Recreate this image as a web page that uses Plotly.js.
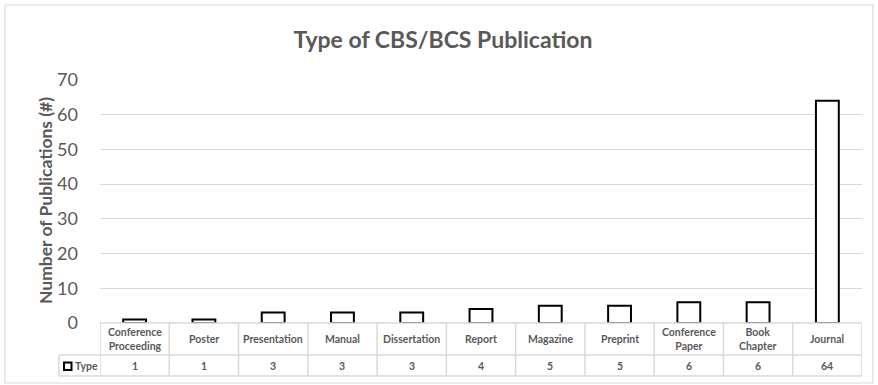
<!DOCTYPE html>
<html>
<head>
<meta charset="utf-8">
<script src="https://cdn.plot.ly/plotly-3.0.1.min.js"></script>
<style>html,body{margin:0;padding:0;background:#fff;}#chart{width:878px;height:385px;}</style>
</head>
<body>
<div id="chart"></div>
<script>
const categories = ["Conference Proceeding","Poster","Presentation","Manual","Dissertation","Report","Magazine","Preprint","Conference Paper","Book Chapter","Journal"];
const categoryLabels = ["Conference<br>Proceeding","Poster","Presentation","Manual","Dissertation","Report","Magazine","Preprint","Conference<br>Paper","Book<br>Chapter","Journal"];
const values = [1,1,3,3,3,4,5,5,6,6,64];
const seriesName = "Type";
const yTicks = [0,10,20,30,40,50,60,70];

const FONT = "Lato, 'Open Sans', sans-serif";
const GRAY = "#595959";
const LINE = "#d9d9d9";

// layout geometry (pixels)
const W = 878, H = 385;
const mL = 100, mR = 16, mT = 80, mB = 62;
const plotH = H - mT - mB;
const plotW = W - mL - mR;
const py = p => (H - mB - p) / plotH;   // pixel y -> paper y
const px = p => (p - mL) / plotW;       // pixel x -> paper x

const n = categories.length;
const shapes = [];
const annotations = [];

// outer chart border
shapes.push({type:"rect", xref:"paper", yref:"paper", x0:px(5), x1:px(873), y0:py(383), y1:py(5), line:{color:LINE, width:1.2}, layer:"below"});

// data table grid
const rowTop = 323, rowMid = 355, rowBot = 376, legendLeft = 59;
shapes.push({type:"line", xref:"x", yref:"paper", x0:-0.5, x1:n-0.5, y0:py(rowTop), y1:py(rowTop), line:{color:LINE, width:1.5}});
shapes.push({type:"line", xref:"paper", yref:"paper", x0:px(legendLeft), x1:1, y0:py(rowMid), y1:py(rowMid), line:{color:LINE, width:1.5}});
shapes.push({type:"line", xref:"paper", yref:"paper", x0:px(legendLeft), x1:1, y0:py(rowBot), y1:py(rowBot), line:{color:LINE, width:1.5}});
shapes.push({type:"line", xref:"paper", yref:"paper", x0:px(legendLeft), x1:px(legendLeft), y0:py(rowMid), y1:py(rowBot), line:{color:LINE, width:1.5}});
for (let i = 0; i <= n; i++) {
  shapes.push({type:"line", xref:"x", yref:"paper", x0:i-0.5, x1:i-0.5, y0:py(rowTop), y1:py(rowBot), line:{color:LINE, width:1.5}});
}
// legend key square
shapes.push({type:"rect", xref:"paper", yref:"paper", x0:px(64), x1:px(71.5), y0:py(370), y1:py(362.5), line:{color:"#000", width:2}, fillcolor:"#fff"});

// table text
categories.forEach((c, i) => {
  annotations.push({x:i, xref:"x", y:py((rowTop+rowMid)/2), yref:"paper", text:categoryLabels[i], showarrow:false,
    font:{family:FONT, size:10.5, color:GRAY, weight:"bold"}, xanchor:"center", yanchor:"middle"});
  annotations.push({x:i, xref:"x", y:py((rowMid+rowBot)/2), yref:"paper", text:String(values[i]), showarrow:false,
    font:{family:FONT, size:10.5, color:GRAY, weight:"bold"}, xanchor:"center", yanchor:"middle"});
});
annotations.push({x:px(73), xref:"paper", y:py((rowMid+rowBot)/2), yref:"paper", text:seriesName, showarrow:false,
  font:{family:FONT, size:10.5, color:GRAY, weight:"bold"}, xanchor:"left", yanchor:"middle"});

// y axis title
annotations.push({x:px(45), xref:"paper", y:py(200), yref:"paper", text:"Number of Publications (#)", textangle:-90, showarrow:false,
  font:{family:FONT, size:17.5, color:GRAY, weight:"bold"}, xanchor:"center", yanchor:"middle"});

const trace = {
  type:"bar", x:categories.map((c,i)=>i), y:values, name:seriesName, width:0.33,
  marker:{color:"#fff", line:{color:"#000", width:2}}, hoverinfo:"skip"
};

const layout = {
  width:W, height:H, margin:{l:mL, r:mR, t:mT, b:mB}, paper_bgcolor:"#fff", plot_bgcolor:"#fff",
  showlegend:false,
  title:{text:"Type of CBS/BCS Publication", x:443/W, xref:"container", xanchor:"center", y:1-40/H, yanchor:"middle",
    font:{family:FONT, size:23, color:GRAY, weight:"bold"}},
  xaxis:{range:[-0.5, n-0.5], showticklabels:false, showgrid:false, zeroline:false, showline:false, ticks:"", fixedrange:true},
  yaxis:{range:[0,70], tickvals:yTicks, showgrid:true, gridcolor:LINE, gridwidth:1, zeroline:false, showline:false, ticks:"",
    tickfont:{family:FONT, size:18, color:GRAY}, ticklabelstandoff:21, fixedrange:true},
  shapes:shapes, annotations:annotations
};

Plotly.newPlot("chart", [trace], layout, {displayModeBar:false, staticPlot:true});
</script>
</body>
</html>
